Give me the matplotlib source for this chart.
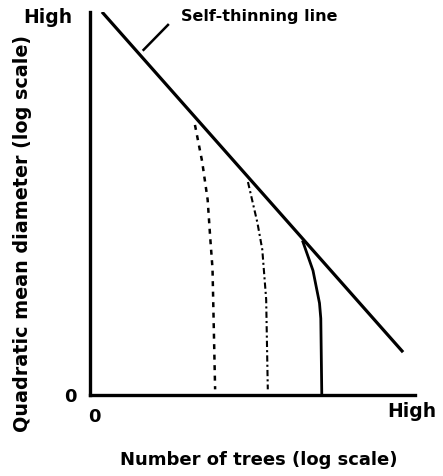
import matplotlib
matplotlib.use("Agg")
import matplotlib.pyplot as plt

# self-thinning boundary (data units, both axes 0-10 on a schematic log scale)
line_x = [0.37, 9.63]
line_y = [10.0, 1.12]

# stand trajectories: start on the boundary, drop straight down at fixed density
dash_x = [3.23, 3.45, 3.62, 3.70, 3.77, 3.85]
dash_y = [7.05, 6.10, 5.10, 4.10, 3.30, 0.15]
dashdot_x = [4.86, 5.15, 5.30, 5.42, 5.47]
dashdot_y = [5.56, 4.50, 3.80, 2.50, 0.15]
solid_x = [6.55, 6.86, 7.06, 7.10, 7.13]
solid_y = [4.00, 3.25, 2.40, 2.00, 0.05]

# leader from the label down towards the boundary
leader_x = [2.40, 1.65]
leader_y = [9.66, 9.01]

fig = plt.figure(figsize=(4.43, 4.76), dpi=100)
ax = fig.add_axes([0.203, 0.170, 0.734, 0.805])
ax.set_xlim(0, 10)
ax.set_ylim(0, 10)
for side in ("top", "right"):
    ax.spines[side].set_visible(False)
for side in ("left", "bottom"):
    ax.spines[side].set_linewidth(2.4)
ax.set_xticks([])
ax.set_yticks([])

ax.plot(line_x, line_y, color="black", lw=2.3, solid_capstyle="butt")
ax.plot(dash_x, dash_y, color="black", lw=1.8, linestyle=(0, (2.0, 2.2)))
ax.plot(dashdot_x, dashdot_y, color="black", lw=1.5, linestyle=(0, (3.0, 1.5, 1.0, 1.5)))
ax.plot(solid_x, solid_y, color="black", lw=2.0)
ax.plot(leader_x, leader_y, color="black", lw=1.8, clip_on=False)

font = dict(family="DejaVu Sans", weight="heavy", color="black")

ax.text(2.8, 9.88, "Self-thinning line", fontsize=11.5, ha="left", va="center",
        clip_on=False, **font)

fig.text(0.108, 0.963, "High", fontsize=13.5, ha="center", va="center", **font)
fig.text(0.158, 0.165, "0", fontsize=13, ha="center", va="center", **font)
fig.text(0.212, 0.123, "0", fontsize=13, ha="center", va="center", **font)
fig.text(0.930, 0.136, "High", fontsize=13.5, ha="center", va="center", **font)
fig.text(0.585, 0.034, "Number of trees (log scale)", fontsize=13,
         ha="center", va="center", **font)
fig.text(0.05, 0.51, "Quadratic mean diameter (log scale)", fontsize=13.8,
         rotation=90, ha="center", va="center", **font)

fig.savefig("out.png", dpi=100)
